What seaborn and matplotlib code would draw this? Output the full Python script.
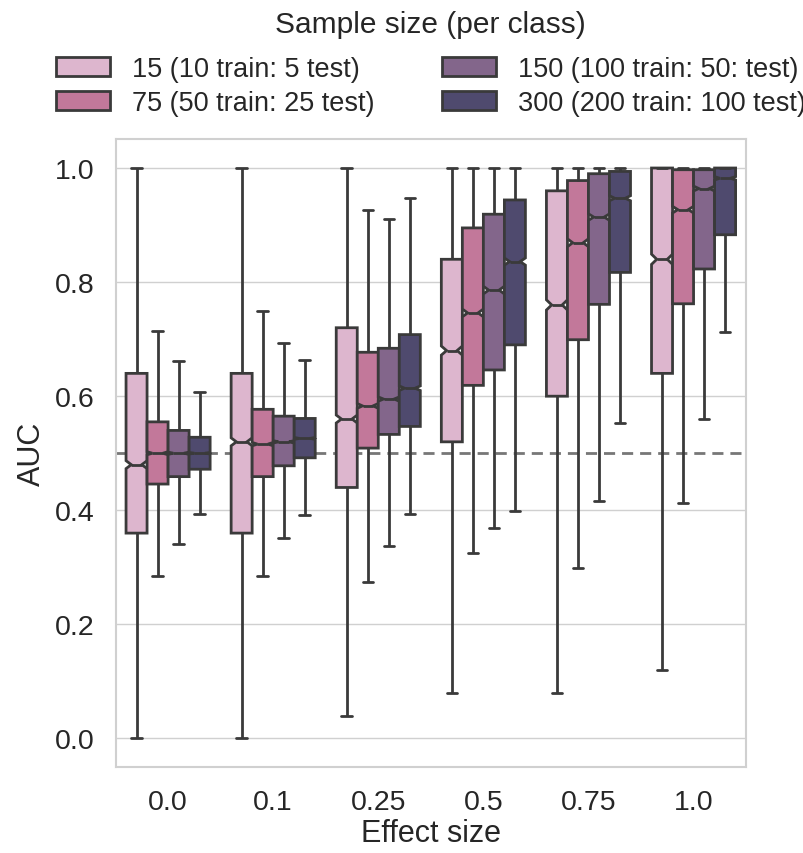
import numpy as np
import pandas as pd
import matplotlib
matplotlib.use("Agg")
import matplotlib.pyplot as plt
import seaborn as sns

# ---- data (five-number summaries) ----
effect_sizes = ["0.0", "0.1", "0.25", "0.5", "0.75", "1.0"]
sample_labels = ["15 (10 train: 5 test)", "75 (50 train: 25 test)",
                 "150 (100 train: 50: test)", "300 (200 train: 100 test)"]
colors = ["#DDB6CE", "#C2789A", "#83668B", "#4F4A6E"]

auc_max = [
    [1.0, 1.0, 1.0, 1.0, 1.0, 1.0],
    [0.715, 0.750, 0.927, 1.0, 1.0, 1.0],
    [0.661, 0.694, 0.911, 1.0, 1.0, 1.0],
    [0.607, 0.663, 0.947, 1.0, 1.0, 1.0],
]
auc_q3 = [
    [0.64, 0.64, 0.72, 0.84, 0.96, 1.0],
    [0.555, 0.577, 0.677, 0.895, 0.978, 0.997],
    [0.540, 0.565, 0.684, 0.919, 0.990, 0.997],
    [0.528, 0.561, 0.708, 0.944, 0.994, 1.0],
]
auc_median = [
    [0.48, 0.52, 0.56, 0.68, 0.76, 0.84],
    [0.50, 0.516, 0.583, 0.746, 0.869, 0.927],
    [0.50, 0.520, 0.595, 0.786, 0.914, 0.964],
    [0.50, 0.526, 0.614, 0.836, 0.947, 0.982],
]
auc_q1 = [
    [0.36, 0.36, 0.44, 0.52, 0.60, 0.64],
    [0.446, 0.459, 0.509, 0.619, 0.699, 0.762],
    [0.459, 0.478, 0.533, 0.646, 0.761, 0.823],
    [0.472, 0.492, 0.547, 0.690, 0.817, 0.883],
]
auc_min = [
    [0.0, 0.0, 0.04, 0.08, 0.08, 0.12],
    [0.285, 0.285, 0.275, 0.326, 0.299, 0.412],
    [0.341, 0.351, 0.337, 0.369, 0.416, 0.560],
    [0.393, 0.392, 0.393, 0.398, 0.553, 0.712],
]
n_per_quartile = 1000  # simulations per box ~ 4*n+1

# build a sample whose quartiles / extremes equal the summaries
rows = []
m = n_per_quartile
for si, slab in enumerate(sample_labels):
    for ei, eff in enumerate(effect_sizes):
        vals = ([auc_min[si][ei]] + [auc_q1[si][ei]] * m + [auc_median[si][ei]] * m
                + [auc_q3[si][ei]] * (2 * m - 1) + [auc_max[si][ei]])
        for v in vals:
            rows.append((eff, slab, v))
df = pd.DataFrame(rows, columns=["Effect size", "Sample size (per class)", "AUC"])

sns.set_theme(style="whitegrid")
plt.rcParams["font.family"] = ["Liberation Sans", "DejaVu Sans"]
plt.rcParams["axes.edgecolor"] = "#d0d0d0"
plt.rcParams["grid.color"] = "#d0d0d0"

fig, ax = plt.subplots(figsize=(8.04, 8.54), dpi=100)
fig.subplots_adjust(left=0.1437, right=0.928, bottom=0.1007, top=0.8355)

ax.axhline(0.5, color="#777777", linestyle="--", linewidth=2, zorder=1, dashes=(4, 2.5))

n_lines_before = len(ax.lines)
sns.boxplot(data=df, x="Effect size", y="AUC", hue="Sample size (per class)",
            order=effect_sizes, hue_order=sample_labels, palette=colors,
            saturation=1, notch=True, whis=(0, 100), showfliers=False,
            width=0.8, linecolor="#3a3a3a", linewidth=2, ax=ax)

# widen whisker caps (horizontal 2-point lines away from the medians)
for ln in ax.lines[n_lines_before:]:
    xd = np.asarray(ln.get_xdata(), dtype=float)
    yd = np.asarray(ln.get_ydata(), dtype=float)
    if len(xd) == 2 and yd[0] == yd[1] and xd[0] != xd[1]:
        c = xd.mean()
        half = (xd[1] - xd[0]) / 2
        # caps in seaborn are 0.4 of the box width; medians span the notch
        ln.set_xdata([c - half * 1.3, c + half * 1.3]) if abs(xd[1] - xd[0]) < 0.09 else None

ax.set_ylim(-0.05, 1.05)
ax.set_yticks([0.0, 0.2, 0.4, 0.6, 0.8, 1.0])
ax.tick_params(axis="both", labelsize=20.5, colors="#262626")
ax.tick_params(axis="y", pad=9)
ax.tick_params(axis="x", pad=10)
ax.set_xlabel("Effect size", fontsize=22, color="#262626", labelpad=2)
ax.set_ylabel("AUC", fontsize=22, color="#262626", labelpad=6)
for s in ax.spines.values():
    s.set_color("#d0d0d0")
    s.set_linewidth(1.5)

sns.move_legend(ax, "lower center", bbox_to_anchor=(0.5, 1.02), ncol=2,
                title="Sample size (per class)", frameon=False, fontsize=19.5,
                title_fontsize=21.5, columnspacing=2.5, handletextpad=0.8,
                labelspacing=0.3, borderaxespad=0.0)
leg = ax.get_legend()
leg._legend_box.sep = 13

fig.savefig("out.png", dpi=100)
